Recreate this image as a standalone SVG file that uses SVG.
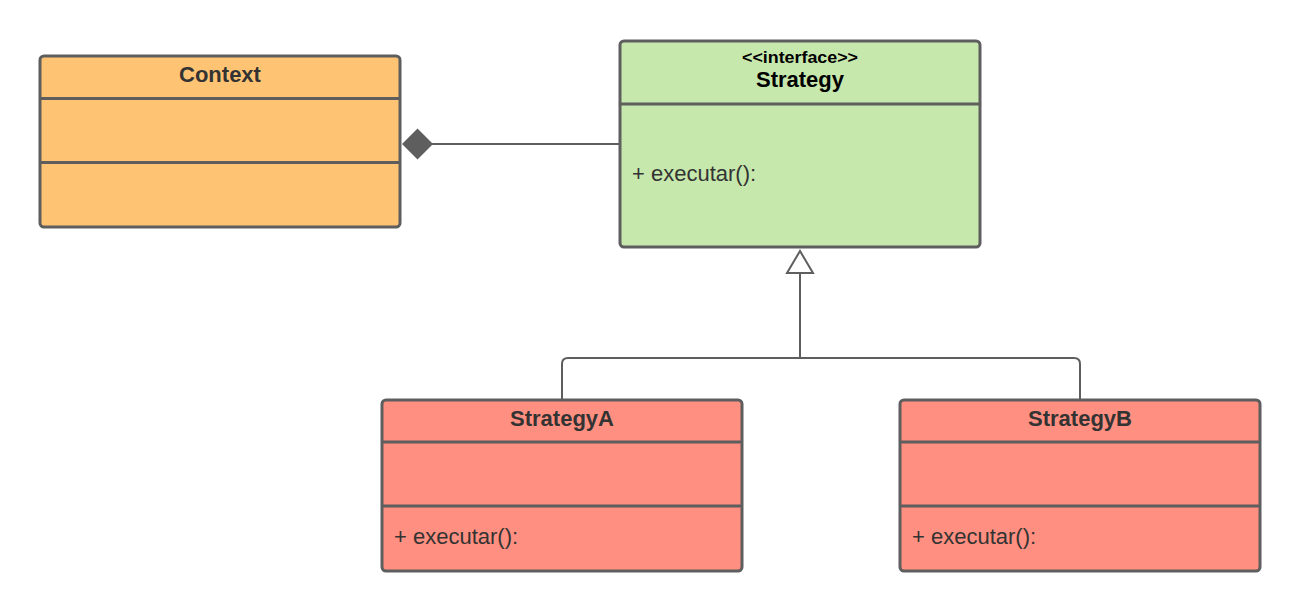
<svg xmlns="http://www.w3.org/2000/svg" width="1300" height="611" viewBox="0 0 1300 611">
<defs>
<style>
.box{stroke:#5e5e5e;stroke-width:3}
.div{stroke:#5e5e5e;stroke-width:3}
.title{font-family:"Liberation Sans",Arial,sans-serif;font-weight:bold;font-size:22px;fill:#333333;text-anchor:middle}
.member{font-family:"Liberation Sans",Arial,sans-serif;font-size:22px;fill:#333333}
.conn{stroke:#5e5e5e;stroke-width:2;fill:none}
</style>
</defs>
<rect width="1300" height="611" fill="#ffffff"/>
<g id="connectors">
<line class="conn" x1="432" y1="144" x2="620" y2="144"/>
<polygon points="402,144 417.5,128.5 433,144 417.5,159.5" fill="#5e5e5e"/>
<path class="conn" d="M800,273 V358"/>
<path class="conn" d="M562,400 V364 Q562,358 568,358 H1074 Q1080,358 1080,364 V400"/>
<polygon points="800,251 787,273 813,273" fill="#ffffff" stroke="#5e5e5e" stroke-width="2"/>
</g>
<g id="context">
<rect class="box" x="40" y="56" width="360" height="171" rx="4" fill="#ffc374"/>
<line class="div" x1="40" y1="98.5" x2="400" y2="98.5"/>
<line class="div" x1="40" y1="162.5" x2="400" y2="162.5"/>
<text class="title" x="220" y="82">Context</text>
</g>
<g id="strategy">
<rect class="box" x="620" y="41" width="360" height="206" rx="4" fill="#c7e8ac"/>
<line class="div" x1="620" y1="104" x2="980" y2="104"/>
<text x="800" y="62.5" font-family="Liberation Sans,Arial,sans-serif" font-weight="bold" font-size="16" fill="#000000" text-anchor="middle" textLength="116" lengthAdjust="spacingAndGlyphs">&lt;&lt;interface&gt;&gt;</text>
<text class="title" x="800" y="87" style="fill:#000000">Strategy</text>
<text class="member" x="632" y="181">+ executar():</text>
</g>
<g id="strategyA">
<rect class="box" x="382" y="400" width="360" height="171" rx="4" fill="#ff8f80"/>
<line class="div" x1="382" y1="442" x2="742" y2="442"/>
<line class="div" x1="382" y1="506" x2="742" y2="506"/>
<text class="title" x="562" y="426">StrategyA</text>
<text class="member" x="394" y="544">+ executar():</text>
</g>
<g id="strategyB">
<rect class="box" x="900" y="400" width="360" height="171" rx="4" fill="#ff8f80"/>
<line class="div" x1="900" y1="442" x2="1260" y2="442"/>
<line class="div" x1="900" y1="506" x2="1260" y2="506"/>
<text class="title" x="1080" y="426">StrategyB</text>
<text class="member" x="912" y="544">+ executar():</text>
</g>
</svg>
